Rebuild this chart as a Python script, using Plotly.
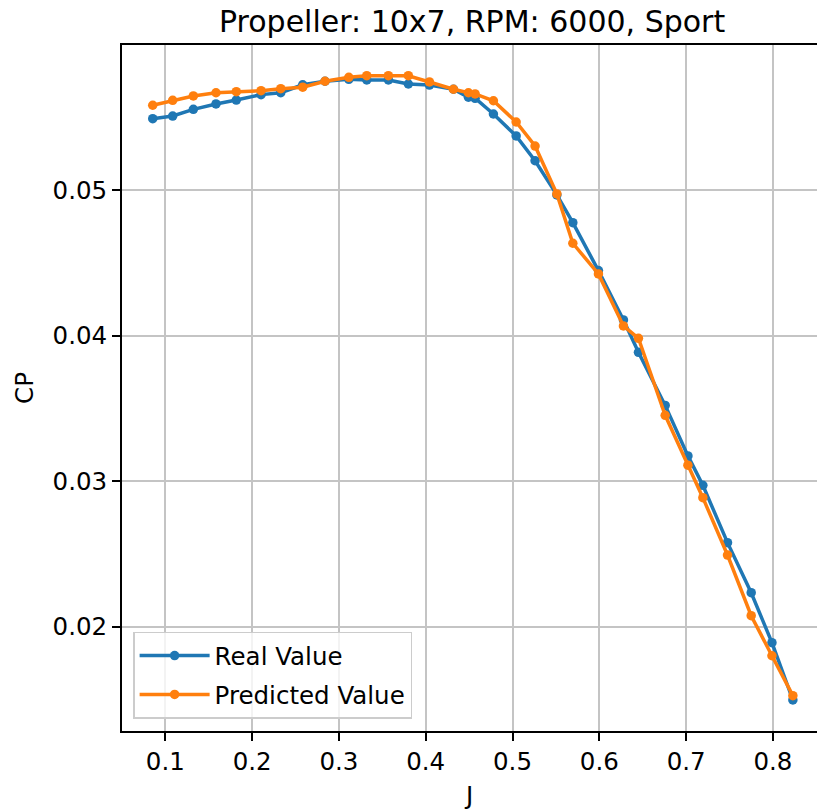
import plotly.graph_objects as go

J = [0.0855, 0.1085, 0.1323, 0.1584, 0.1818, 0.2103, 0.2330, 0.2583, 0.2840, 0.3114,
     0.3321, 0.3570, 0.3800, 0.4043, 0.4320, 0.4492, 0.4569, 0.4780, 0.5042, 0.5260,
     0.5511, 0.5695, 0.5990, 0.6278, 0.6451, 0.6759, 0.7021, 0.7193, 0.7477, 0.7750,
     0.7989, 0.8230]

real_cp = [0.05490, 0.05508, 0.05554, 0.05591, 0.05618, 0.05655, 0.05668, 0.05723, 0.05747, 0.05760,
           0.05756, 0.05756, 0.05728, 0.05721, 0.05692, 0.05637, 0.05630, 0.05522, 0.05371, 0.05201,
           0.04966, 0.04775, 0.04446, 0.04107, 0.03885, 0.03520, 0.03173, 0.02971, 0.02577, 0.02233,
           0.01890, 0.01496]

pred_cp = [0.05582, 0.05616, 0.05646, 0.05668, 0.05675, 0.05682, 0.05696, 0.05706, 0.05747, 0.05774,
           0.05785, 0.05785, 0.05785, 0.05742, 0.05692, 0.05668, 0.05660, 0.05613, 0.05467, 0.05302,
           0.04973, 0.04634, 0.04423, 0.04066, 0.03981, 0.03452, 0.03109, 0.02886, 0.02492, 0.02075,
           0.01800, 0.01526]

series_names = ["Real Value", "Predicted Value"]
colors = ["#1f77b4", "#ff7f0e"]
title_text = "Propeller: 10x7, RPM: 6000, Sport"

FONT = "DejaVu Sans"
FS = 24.5

fig = go.Figure()
for name, ys, c in zip(series_names, [real_cp, pred_cp], colors):
    fig.add_trace(go.Scatter(
        x=J, y=ys, mode="lines+markers", name=name, legendgroup=name,
        line=dict(color=c, width=3.5),
        marker=dict(color=c, size=9.5),
    ))

axis_common = dict(
    showgrid=True, gridcolor="#c4c4c4", gridwidth=1.9,
    showline=True, linecolor="black", linewidth=1.9,
    ticks="outside", ticklen=8, tickwidth=1.9, tickcolor="black",
    tickfont=dict(family=FONT, size=FS, color="black"),
    zeroline=False,
)

fig.update_layout(
    width=817, height=810,
    margin=dict(l=122, r=0, t=45, b=79),
    paper_bgcolor="white", plot_bgcolor="white",
    font=dict(family=FONT, color="black"),
    showlegend=True,
    legend=dict(
        x=0.016, y=0.018, xanchor="left", yanchor="bottom",
        bgcolor="rgba(255,255,255,0.8)", bordercolor="#cccccc", borderwidth=1.5,
        font=dict(family=FONT, size=FS, color="black"),
        tracegroupgap=4, traceorder="grouped", itemwidth=70,
    ),
    annotations=[dict(
        text=title_text, xref="paper", yref="paper", x=0.5043, y=1.0,
        xanchor="center", yanchor="bottom", yshift=4, showarrow=False,
        font=dict(family=FONT, size=30, color="black"),
    )],
)

fig.update_xaxes(
    **axis_common, range=[0.0501, 0.8508], dtick=0.1, tick0=0.1, tickformat=".1f",
    mirror=True,
    title=dict(text="J", font=dict(family=FONT, size=FS, color="black"), standoff=13),
    automargin=False,
)
fig.update_yaxes(
    **axis_common, range=[0.01283, 0.05996], dtick=0.01, tick0=0.0, tickformat=".2f",
    title=dict(text="CP", font=dict(family=FONT, size=FS, color="black"), standoff=12),
    automargin=False,
)

fig.write_html("out.html")
